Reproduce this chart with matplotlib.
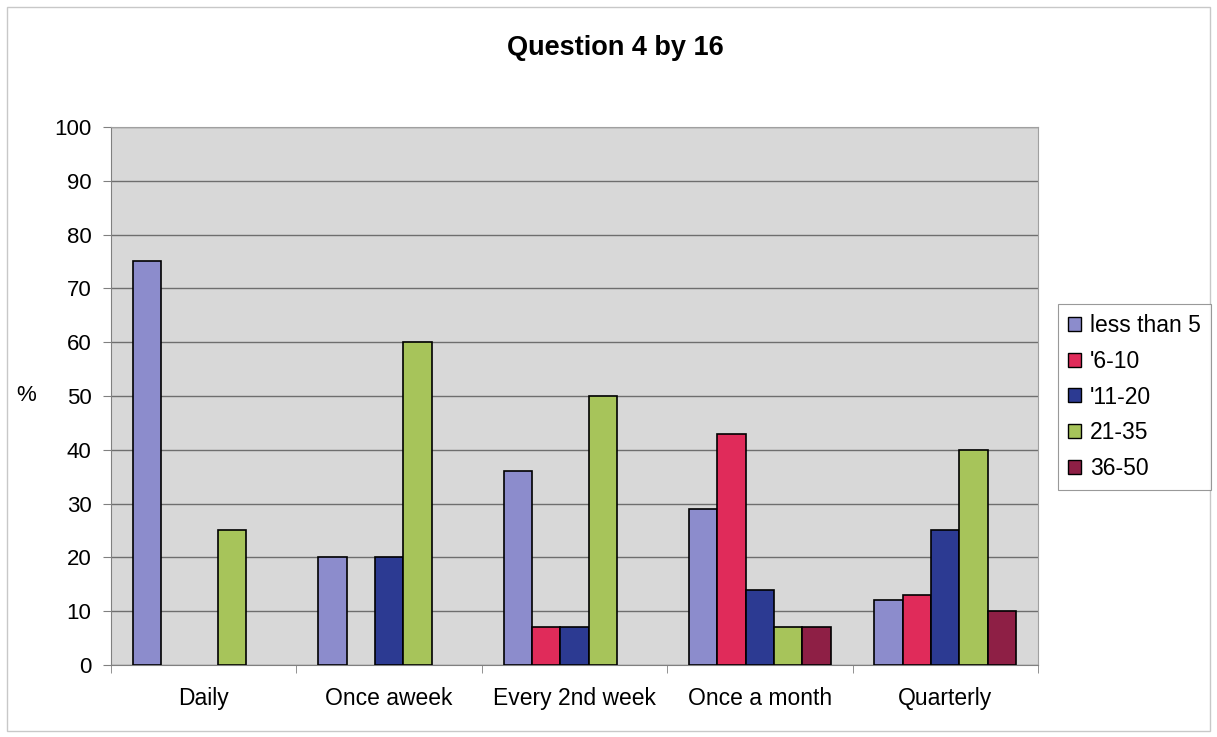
import numpy as np
import matplotlib.pyplot as plt
from matplotlib.patches import Rectangle

plt.rcParams['font.family'] = ['Liberation Sans', 'DejaVu Sans']

# data
categories = ["Daily", "Once aweek", "Every 2nd week", "Once a month", "Quarterly"]
series = ["less than 5", "'6-10", "'11-20", "21-35", "36-50"]
less_than_5 = [75, 20, 36, 29, 12]
s6_10 = [0, 0, 7, 43, 13]
s11_20 = [0, 20, 7, 14, 25]
s21_35 = [25, 60, 50, 7, 40]
s36_50 = [0, 0, 0, 7, 10]
values = [less_than_5, s6_10, s11_20, s21_35, s36_50]
colors = ['#8C8CCC', '#E02B5A', '#2C3A92', '#A7C45A', '#8E1F45']

fig = plt.figure(figsize=(12.17, 7.37), dpi=100)
ax = fig.add_axes([0.0912, 0.0977, 0.7617, 0.7300])
ax.set_facecolor('#D8D8D8')

x = np.arange(len(categories))
w = 0.153
for i, (name, vals) in enumerate(zip(series, values)):
    lw = [1.2 if v > 0 else 0 for v in vals]   # no outline on empty bars
    ax.bar(x + (i - 2) * w, vals, w, color=colors[i], edgecolor='black',
           linewidth=lw, label=name, zorder=3)

ax.set_xlim(-0.5, len(categories) - 0.5)
ax.set_ylim(0, 100)
ax.set_yticks(range(0, 101, 10))
ax.yaxis.grid(True, color='#6E6E6E', linewidth=1, zorder=0)
ax.set_axisbelow(True)

# category labels centered, ticks at group boundaries
ax.set_xticks(x)
ax.set_xticklabels(categories, fontsize=16.5)
ax.tick_params(axis='x', length=0, pad=16)
ax.set_xticks(np.arange(-0.5, len(categories) + 0.5, 1), minor=True)
ax.tick_params(axis='x', which='minor', length=6, color='#808080')
ax.tick_params(axis='y', labelsize=16, length=6, color='#808080', pad=8)

for s in ['top', 'right']:
    ax.spines[s].set_color('#A0A0A0')
for s in ['left', 'bottom']:
    ax.spines[s].set_color('#808080')

ax.set_ylabel('%', fontsize=16, rotation=0, labelpad=20, va='center')

fig.text(0.506, 0.935, 'Question 4 by 16', ha='center', va='center',
         fontsize=19.5, fontweight='bold')

leg = fig.legend(loc='center left', bbox_to_anchor=(1058 / 1217, 1 - 397 / 737),
                 fontsize=16.5, frameon=True, fancybox=False, handlelength=0.55,
                 handleheight=0.55, handletextpad=0.4, labelspacing=0.55,
                 borderpad=0.45, borderaxespad=0)
leg.get_frame().set_edgecolor('#808080')
leg.get_frame().set_linewidth(0.8)
for h in leg.legend_handles:
    h.set_edgecolor('black')
    h.set_linewidth(1)

# outer chart border
fig.add_artist(Rectangle((0.006, 0.008), 0.988, 0.983, transform=fig.transFigure,
                         fill=False, edgecolor='#C8C8C8', linewidth=1))

fig.savefig('out.png', dpi=100)
